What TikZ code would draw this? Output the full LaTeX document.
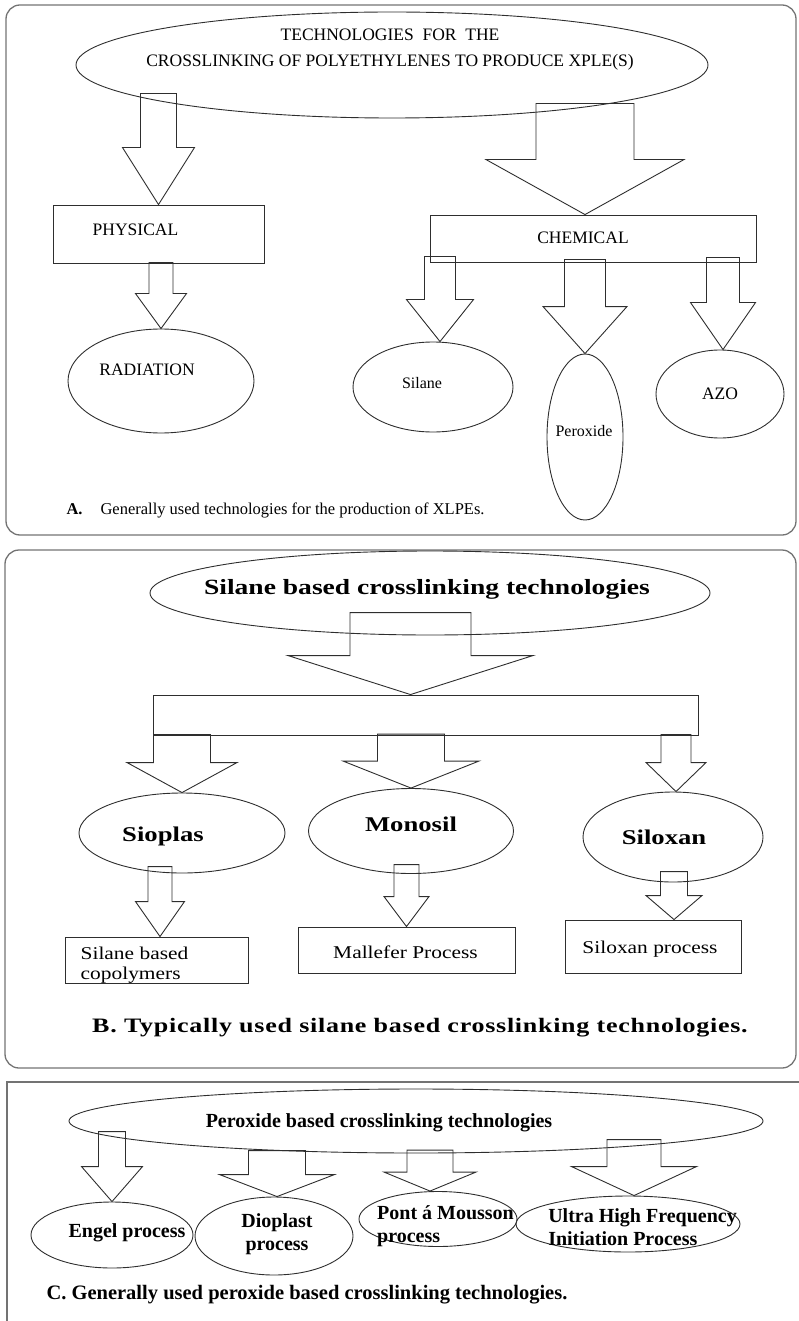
\documentclass[tikz,border=0pt]{standalone}
\usepackage{fontspec}
\setmainfont{Liberation Serif}
\newfontfamily\widerm[FakeStretch=1.19]{Liberation Serif}
\newfontfamily\widebf[FakeStretch=1.27]{Liberation Serif Bold}
\newfontfamily\capbf[FakeStretch=1.27,LetterSpace=3.5]{Liberation Serif Bold}
\usetikzlibrary{shapes.geometric,calc}

\colorlet{linegray}{black!82}
\colorlet{framegray}{black!55}

\tikzset{
  oval/.style={draw=linegray, ellipse, inner sep=0pt, line width=0.9pt},
  box/.style={draw=linegray, rectangle, inner sep=0pt, line width=0.9pt},
  panel/.style={draw=framegray, line width=1.3pt},
  blk/.style={draw=linegray, line width=0.9pt, line join=miter},
  capsA/.style={font=\fontsize{17.5}{26}\selectfont, align=center},
  smallA/.style={font=\fontsize{16}{19}\selectfont},
  captA/.style={font=\fontsize{16.5}{19}\selectfont},
  titleB/.style={font=\widebf\fontsize{21.7}{26}\selectfont},
  boldB/.style={font=\widebf\fontsize{21}{25}\selectfont},
  textB/.style={font=\widerm\fontsize{18}{20}\selectfont, align=left},
  captB/.style={font=\capbf\fontsize{20.5}{24}\selectfont},
  boldC/.style={font=\bfseries\fontsize{20}{23}\selectfont, align=left},
}

% hollow block arrow: tip, total length, shaft half width, head half width, head length
\newcommand{\blockarrow}[5]{%
  \coordinate (tip) at (#1);
  \draw[blk] ($(tip)+(-#3,-#2)$) -- ($(tip)+(-#3,-#5)$) -- ($(tip)+(-#4,-#5)$) -- (tip)
    -- ($(tip)+(#4,-#5)$) -- ($(tip)+(#3,-#5)$) -- ($(tip)+(#3,-#2)$) -- cycle;
}

\begin{document}
\begin{tikzpicture}[x=1pt,y=-1pt]
\useasboundingbox (0,0) rectangle (798,1321);

% ---------- panel A ----------
\draw[panel, rounded corners=14pt] (6,5) rectangle (796,535);

\node[oval, minimum width=632pt, minimum height=106pt,
      label={[capsA, shift={(-2,-15)}]center:TECHNOLOGIES\ \ FOR\ \ THE\\CROSSLINKING OF POLYETHYLENES TO PRODUCE XPLE(S)}]
      (tech) at (392,65) {};
\node[box, minimum width=211pt, minimum height=58pt,
      label={[capsA, shift={(-23,-4)}]center:PHYSICAL}] (phys) at (158.5,234) {};
\node[box, minimum width=326pt, minimum height=47pt,
      label={[capsA, shift={(-10,-1)}]center:CHEMICAL}] (chem) at (593,238.5) {};
\node[oval, minimum width=186pt, minimum height=104pt,
      label={[capsA, shift={(-14,-11)}]center:RADIATION}] (rad) at (161,381) {};
\node[oval, minimum width=160pt, minimum height=90pt,
      label={[smallA, shift={(-11,-4)}]center:Silane}] (silane) at (433,387) {};
\node[oval, minimum width=76pt, minimum height=166pt,
      label={[smallA, shift={(-1,-6)}]center:Peroxide}] (perox) at (585,437) {};
\node[oval, minimum width=128pt, minimum height=88pt,
      label={[capsA]center:AZO}] (azo) at (720,394) {};

\node[captA, anchor=west] (capA) at (63,510)
  {\textbf{A.}\hspace{18pt}Generally used technologies for the production of XLPEs.};

\blockarrow{phys.north}{111}{18}{36}{57}
\blockarrow{[xshift=-8pt]chem.north}{111}{49}{99}{55}
\blockarrow{rad.north}{66}{12}{25.5}{35}
\blockarrow{[xshift=7pt]silane.north}{85}{15.5}{33.5}{42}
\blockarrow{perox.north}{94}{20.5}{42}{47}
\blockarrow{[xshift=3pt]azo.north}{92}{16.5}{32.5}{47}

% ---------- panel B ----------
\draw[panel, rounded corners=14pt] (5,550) rectangle (796,1068);

\node[oval, minimum width=560pt, minimum height=84pt,
      label={[titleB, shift={(-3,-4)}]center:Silane based crosslinking technologies}]
      (silb) at (430,593) {};
\node[box, minimum width=545pt, minimum height=40pt] (bar) at (425.5,715) {};

\node[oval, minimum width=206pt, minimum height=80pt,
      label={[boldB, shift={(-19,3)}]center:Sioplas}] (sio) at (182,833) {};
\node[oval, minimum width=205pt, minimum height=85pt,
      label={[boldB, shift={(0,-7)}]center:Monosil}] (mono) at (411,831) {};
\node[oval, minimum width=180pt, minimum height=90pt,
      label={[boldB, shift={(-9,0)}]center:Siloxan}] (silx) at (673,837) {};

\node[box, minimum width=183pt, minimum height=46pt,
      label={[textB, shift={(-22,5)}]center:Silane based\\copolymers}] (cop) at (156.5,960) {};
\node[box, minimum width=217pt, minimum height=46pt,
      label={[textB, shift={(-1,2)}]center:Mallefer Process}] (mal) at (406.5,950) {};
\node[box, minimum width=176pt, minimum height=53pt,
      label={[textB, shift={(-3,3)}]center:Siloxan process}] (slp) at (653,946.5) {};

\node[captB] (capB) at (420,1028) {B. Typically used silane based crosslinking technologies.};

\blockarrow{[xshift=-15pt]bar.north}{82}{60.5}{122.5}{39}
\blockarrow{sio.north}{58}{28.5}{55}{30}
\blockarrow{mono.north}{54}{33.5}{68}{27}
\blockarrow{[xshift=3pt]silx.north}{57}{15}{30}{29}
\blockarrow{[xshift=3.5pt]cop.north}{70}{12}{24.5}{35}
\blockarrow{mal.north}{62}{12.5}{22.5}{30}
\blockarrow{[xshift=21pt]slp.north}{48}{13.5}{28}{24}

% ---------- panel C ----------
\draw[panel] (7,1340) -- (7,1082) -- (810,1082);

\node[oval, minimum width=694pt, minimum height=64pt,
      label={[boldC, shift={(-37,2)}]center:Peroxide based crosslinking technologies}]
      (perb) at (416,1121) {};
\node[oval, minimum width=162pt, minimum height=66pt,
      label={[boldC, shift={(15,-2)}]center:Engel process}] (engel) at (112,1235) {};
\node[oval, minimum width=158pt, minimum height=78pt,
      label={[boldC, align=center, shift={(3,-2)}]center:Dioplast\\process}] (dio) at (274,1236) {};
\node[oval, minimum width=158pt, minimum height=55pt,
      label={[boldC, shift={(7.5,7)}]center:Pont \'a Mousson\\process}] (pont) at (438,1219) {};
\node[oval, minimum width=224pt, minimum height=56pt,
      label={[boldC, shift={(14.5,3)}]center:Ultra High Frequency\\Initiation Process}] (uhf) at (628,1224) {};

\node[boldC, font=\bfseries\fontsize{20.5}{24}\selectfont, anchor=west] (capC) at (43,1295)
  {C. Generally used peroxide based crosslinking technologies.};

\blockarrow{engel.north}{70}{13.5}{30.5}{35}
\blockarrow{[xshift=3pt]dio.north}{46}{28.5}{57.5}{22}
\blockarrow{[xshift=-8pt]pont.north}{41}{23}{46}{19}
\blockarrow{[xshift=6pt]uhf.north}{56}{27}{62.5}{29}

\end{tikzpicture}
\end{document}
